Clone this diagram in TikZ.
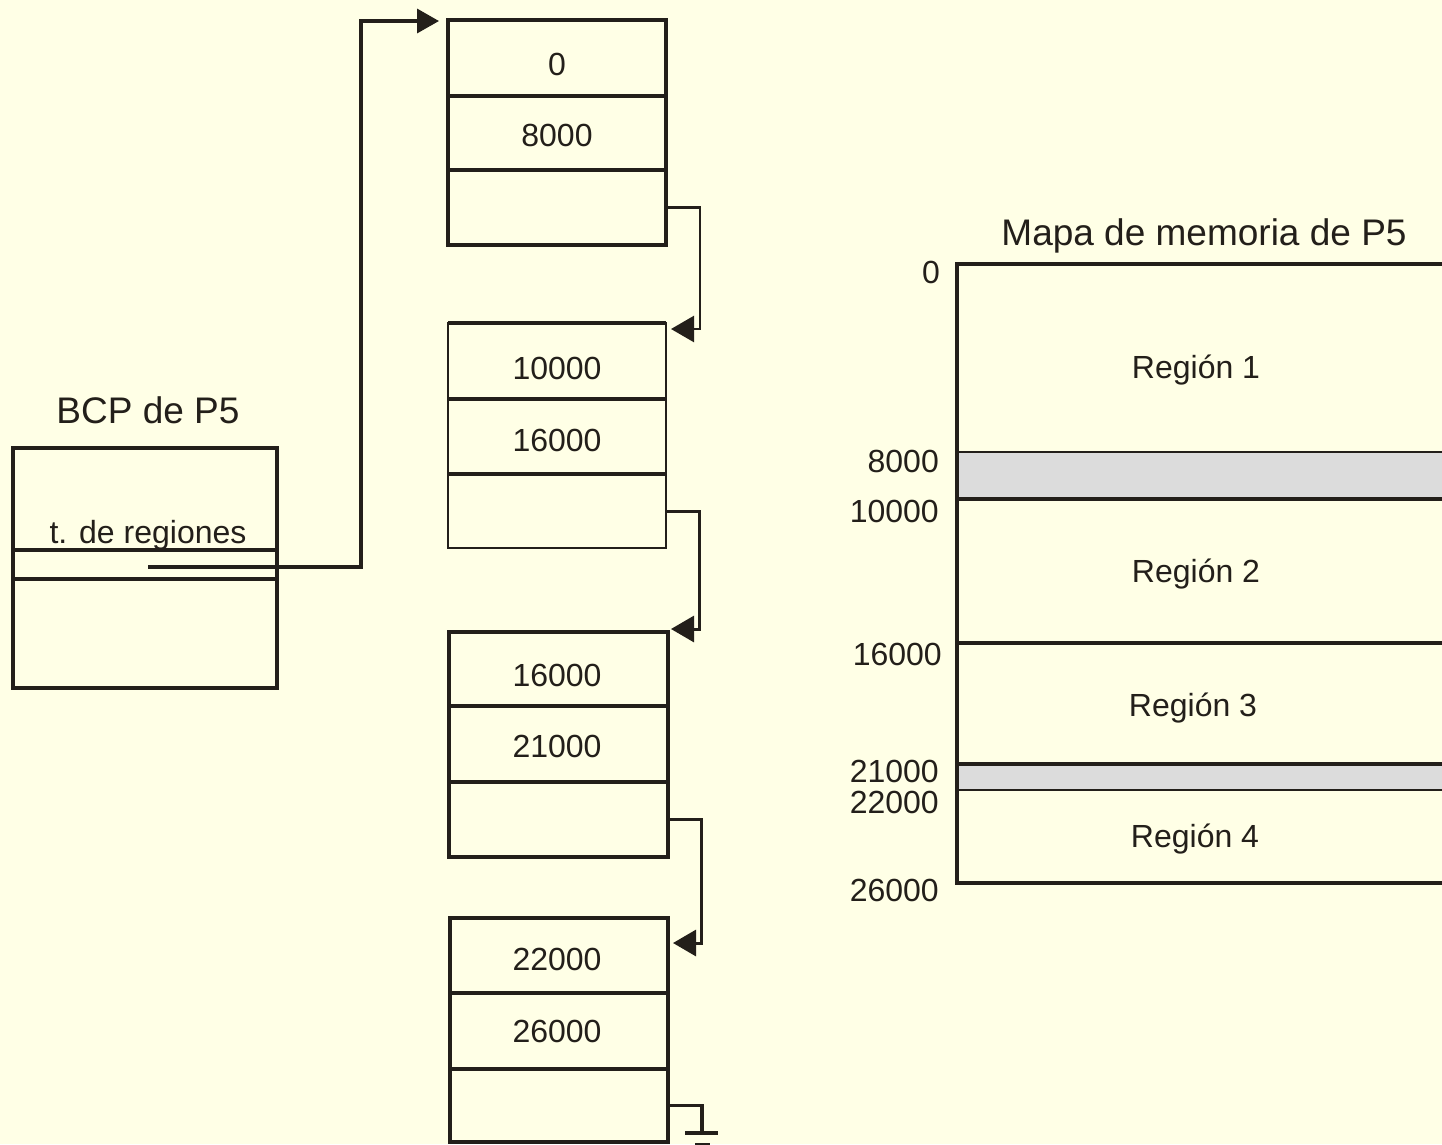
\documentclass[tikz,border=0pt]{standalone}
\usepackage{fontspec}
\setmainfont{Liberation Sans}
\usetikzlibrary{arrows.meta}
\definecolor{ink}{RGB}{35,31,26}
\definecolor{bg}{RGB}{255,255,230}
\definecolor{band}{RGB}{220,220,220}
\begin{document}
\begin{tikzpicture}[x=1pt,y=-1pt,
  cell/.style={draw=ink, line width=3.5pt, minimum width=218pt, anchor=north west, inner sep=0pt, outer sep=0pt},
  thincell/.style={cell, line width=2pt},
  num/.style={font=\fontsize{32}{38}\selectfont, text=ink, inner sep=0pt},
  maplab/.style={num, anchor=east},
  reg/.style={num, anchor=base},
  title/.style={font=\fontsize{37}{44}\selectfont, text=ink, inner sep=0pt, anchor=base},
  conn/.style={draw=ink, line width=3pt, -{Triangle[length=23pt,width=26pt]}},
  ln/.style={draw=ink, line width=4pt}]
\useasboundingbox (0,0) rectangle (1442,1144);
\fill[bg] (0,0) rectangle (1442,1144);
\clip (0,0) rectangle (1442,1144);

% list box 1
\node[cell, minimum height=76pt] (b1a) at (448,20) {};
\node[cell, minimum height=74pt] (b1b) at (448,96) {};
\node[cell, minimum height=75pt] (b1c) at (448,170) {};
% list box 2
\node[thincell, minimum height=76pt] (b2a) at (448,323) {};
\node[thincell, minimum height=75pt] (b2b) at (448,399) {};
\node[thincell, minimum height=74pt] (b2c) at (448,474) {};
\draw[ink, line width=4pt] (b2a.north west) -- (b2a.north east);
\draw[ink, line width=4pt] (b2b.north west) -- (b2b.north east);
\draw[ink, line width=4pt] (b2c.north west) -- (b2c.north east);
% list box 3
\node[cell, minimum width=219pt, minimum height=74pt] (b3a) at (449,632) {};
\node[cell, minimum width=219pt, minimum height=76pt] (b3b) at (449,706) {};
\node[cell, minimum width=219pt, minimum height=75pt] (b3c) at (449,782) {};
% list box 4
\node[cell, minimum height=75pt] (b4a) at (450,918) {};
\node[cell, minimum height=76pt] (b4b) at (450,993) {};
\node[cell, minimum height=73pt] (b4c) at (450,1069) {};

% cell texts
\node[num] (v1a) at (557,64) {0};
\node[num] (v1b) at (557,135) {8000};
\node[num] (v2a) at (557,368) {10000};
\node[num] (v2b) at (557,440) {16000};
\node[num] (v3a) at (557,675) {16000};
\node[num] (v3b) at (557,746) {21000};
\node[num] (v4a) at (557,959) {22000};
\node[num] (v4b) at (557,1031) {26000};

% links between list boxes
\coordinate (t2) at (671,329);
\coordinate (t3) at (671,629);
\coordinate (t4) at (673,943);
\draw[conn, line width=2.5pt] (b1c.east) -- ++(34,0) |- (t2);
\draw[conn] (b2c.east) -- ++(33,0) |- (t3);
\draw[conn] (b3c.east) -- ++(33,0) |- (t4);
% end of list (ground)
\coordinate (g0) at (702,1133);
\draw[draw=ink, line width=3.5pt] (b4c.east) -| (g0);
\node[inner sep=0pt] (gnd) at (g0) {};
\draw[draw=ink, line width=3.5pt] ([xshift=-17pt]gnd.center) -- ([xshift=16pt]gnd.center);
\draw[draw=ink, line width=3.5pt] ([xshift=-7pt,yshift=-12pt]gnd.center) -- ([xshift=8pt,yshift=-12pt]gnd.center);

% BCP box
\node[title] (bcpt) at (148,423) {BCP de P5};
\node[draw=ink, line width=3.5pt, minimum width=264pt, minimum height=240pt, anchor=north west, inner sep=0pt, outer sep=0pt] (bcp) at (13,448) {};
\draw[ink, line width=3.5pt] (bcp.west |- 0,550) -- (bcp.east |- 0,550);
\draw[ink, line width=3.5pt] (bcp.west |- 0,579) -- (bcp.east |- 0,579);
\node[num, anchor=base] (treg) at (148,543) {t. de regiones};
\coordinate (p0) at (148,567);
\coordinate (t1) at (439,21);
\draw[draw=ink, line width=3.5pt, -{Triangle[length=22pt,width=24pt]}] (p0) -- (361,567) |- (t1);

% memory map
\node[title] (mapt) at (1204,245) {Mapa de memoria de P5};
\fill[band] (957,452) rectangle (1450,499);
\fill[band] (957,764) rectangle (1450,790);
\draw[ln] (1450,264) -- (957,264) -- (957,883) -- (1450,883);
\draw[draw=ink, line width=2.5pt] (957,452) -- (1450,452);
\draw[ln] (957,499) -- (1450,499);
\draw[ln] (957,643) -- (1450,643);
\draw[ln] (957,764) -- (1450,764);
\draw[draw=ink, line width=2.5pt] (957,790) -- (1450,790);

\node[maplab] (m0) at (940,272) {0};
\node[maplab] (m8) at (939,461) {8000};
\node[maplab] (m10) at (939,511) {10000};
\node[maplab] (m16) at (942,654) {16000};
\node[maplab] (m21) at (939,771) {21000};
\node[maplab] (m22) at (939,802) {22000};
\node[maplab] (m26) at (939,890) {26000};

\node[reg] (r1) at (1196,378) {Región 1};
\node[reg] (r2) at (1196,582) {Región 2};
\node[reg] (r3) at (1193,716) {Región 3};
\node[reg] (r4) at (1195,847) {Región 4};
\end{tikzpicture}
\end{document}
